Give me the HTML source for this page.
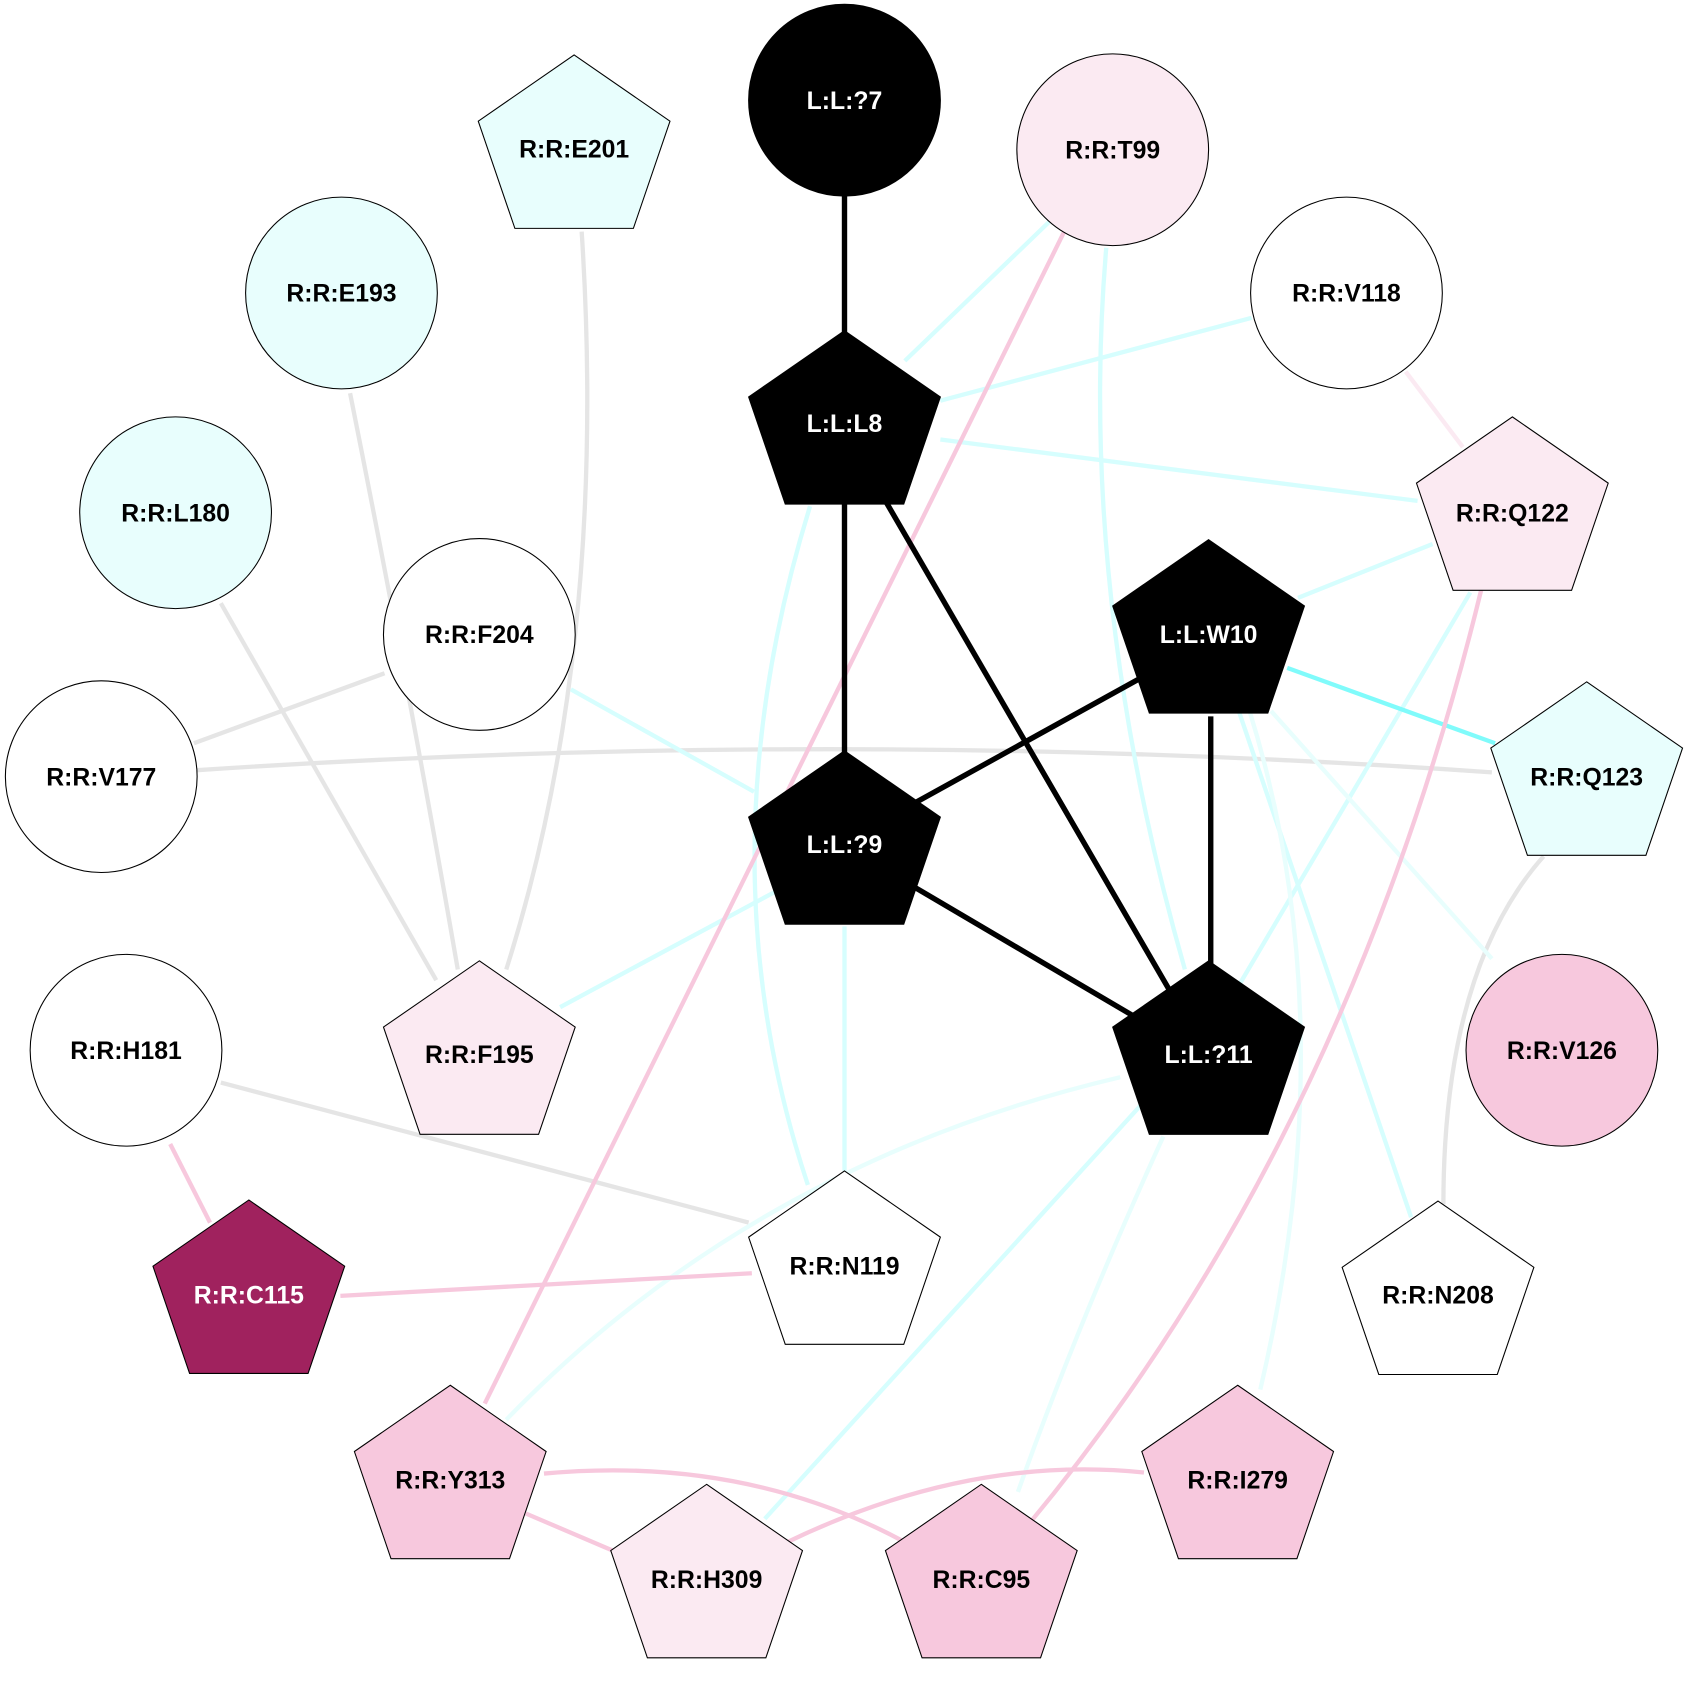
<!DOCTYPE html>
<html><head><meta charset="utf-8"><style>html,body{margin:0;padding:0;background:#fff}svg{display:block}</style></head>
<body>
<svg width="1689" height="1683" viewBox="0 0 1568 1562.4" xmlns="http://www.w3.org/2000/svg">
<defs>
<polygon id="pent" points="0,-89 89,-27.5 55,72 -55,72 -89,-27.5"/>
</defs>
<g fill="none" stroke-width="4" stroke-linecap="butt">
<path d="M540,215 Q565,600 470,900" stroke="#e5e5e5"/>
<path d="M325,365 Q380,640 425,900" stroke="#e5e5e5"/>
<path d="M205,560 L405,910" stroke="#e5e5e5"/>
<path d="M357,625 L180,690" stroke="#e5e5e5"/>
<path d="M183,715 Q784,675 1385,717" stroke="#e5e5e5"/>
<path d="M1433,795 Q1340,900 1340,1118" stroke="#e5e5e5"/>
<path d="M205,1005 L695,1135" stroke="#e5e5e5"/>
<path d="M975,205 L840,335" stroke="#d6fefe"/>
<path d="M1027,230 Q1000,550 1100,900" stroke="#d6fefe"/>
<path d="M1162,295 L873,372" stroke="#d6fefe"/>
<path d="M873,408 L1316,465" stroke="#d6fefe"/>
<path d="M1330,505 L1205,555" stroke="#d6fefe"/>
<path d="M1365,550 L1150,915" stroke="#d6fefe"/>
<path d="M1195,620 L1388,690" stroke="#80fbfb"/>
<path d="M1180,660 L1385,890" stroke="#e8fefd"/>
<path d="M1150,660 L1310,1130" stroke="#d6fefe"/>
<path d="M1160,660 Q1250,950 1170,1290" stroke="#e8fefd"/>
<path d="M752,470 Q650,800 750,1100" stroke="#d6fefe"/>
<path d="M784,860 L784,1087" stroke="#d6fefe"/>
<path d="M725,825 L520,935" stroke="#d6fefe"/>
<path d="M530,640 L700,735" stroke="#d6fefe"/>
<path d="M1040,1000 Q700,1080 470,1318" stroke="#e8fefd"/>
<path d="M1060,1025 L710,1410" stroke="#d6fefe"/>
<path d="M1080,1055 Q1000,1230 945,1385" stroke="#e8fefd"/>
<path d="M988,215 L450,1303" stroke="#f7c8dd"/>
<path d="M1375,548 Q1250,1060 955,1415" stroke="#f7c8dd"/>
<path d="M158,1062 L195,1135" stroke="#f7c8dd"/>
<path d="M316,1203 L698,1182" stroke="#f7c8dd"/>
<path d="M505,1368 Q700,1350 855,1440" stroke="#f7c8dd"/>
<path d="M488,1405 L570,1440" stroke="#f7c8dd"/>
<path d="M730,1432 Q900,1350 1062,1367" stroke="#f7c8dd"/>
<path d="M1305,345 L1358,415" stroke="#fbeaf2"/>
<g stroke="#000" stroke-width="5">
<path d="M784,180 L784,310"/>
<path d="M784,468 L784,700"/>
<path d="M822,465 L1085,918"/>
<path d="M1058,630 L850,745"/>
<path d="M1124,665 L1124,895"/>
<path d="M848,823 L1052,943"/>
</g>
</g>
<g stroke="#000" stroke-width="1">
<circle cx="784" cy="93" r="89" fill="#000"/>
<circle cx="1033" cy="139" r="89" fill="#fbeaf2"/>
<circle cx="1250" cy="272" r="89" fill="#fff"/>
<circle cx="317" cy="272" r="89" fill="#e8fefd"/>
<circle cx="163" cy="476" r="89" fill="#e8fefd"/>
<circle cx="445" cy="589" r="89" fill="#fff"/>
<circle cx="94" cy="721" r="89" fill="#fff"/>
<circle cx="117" cy="975" r="89" fill="#fff"/>
<circle cx="1450" cy="975" r="89" fill="#f7c8dd"/>
<use href="#pent" x="533" y="140" fill="#e8fefd"/>
<use href="#pent" x="784" y="396" fill="#000"/>
<use href="#pent" x="1404" y="476" fill="#fbeaf2"/>
<use href="#pent" x="1122" y="590" fill="#000"/>
<use href="#pent" x="1473" y="722" fill="#e8fefd"/>
<use href="#pent" x="784" y="786" fill="#000"/>
<use href="#pent" x="1122" y="981" fill="#000"/>
<use href="#pent" x="445" y="981" fill="#fbeaf2"/>
<use href="#pent" x="784" y="1176" fill="#fff"/>
<use href="#pent" x="231" y="1203" fill="#a0225e"/>
<use href="#pent" x="1335" y="1204" fill="#fff"/>
<use href="#pent" x="418" y="1375" fill="#f7c8dd"/>
<use href="#pent" x="1149" y="1375" fill="#f7c8dd"/>
<use href="#pent" x="656" y="1467" fill="#fbeaf2"/>
<use href="#pent" x="911" y="1467" fill="#f7c8dd"/>
</g>
<g font-family="Liberation Sans, Arial, sans-serif" font-weight="bold" font-size="23" text-anchor="middle" fill="#000">
<text x="784" y="101" fill="#fff">L:L:?7</text>
<text x="1033" y="147">R:R:T99</text>
<text x="1250" y="280">R:R:V118</text>
<text x="317" y="280">R:R:E193</text>
<text x="163" y="484">R:R:L180</text>
<text x="445" y="597">R:R:F204</text>
<text x="94" y="729">R:R:V177</text>
<text x="117" y="983">R:R:H181</text>
<text x="1450" y="983">R:R:V126</text>
<text x="533" y="146">R:R:E201</text>
<text x="784" y="401" fill="#fff">L:L:L8</text>
<text x="1404" y="484">R:R:Q122</text>
<text x="1122" y="597" fill="#fff">L:L:W10</text>
<text x="1473" y="729">R:R:Q123</text>
<text x="784" y="792" fill="#fff">L:L:?9</text>
<text x="1122" y="987" fill="#fff">L:L:?11</text>
<text x="445" y="987">R:R:F195</text>
<text x="784" y="1183">R:R:N119</text>
<text x="231" y="1210" fill="#fff">R:R:C115</text>
<text x="1335" y="1210">R:R:N208</text>
<text x="418" y="1382">R:R:Y313</text>
<text x="1149" y="1382">R:R:I279</text>
<text x="656" y="1474">R:R:H309</text>
<text x="911" y="1474">R:R:C95</text>
</g>
</svg>
</body></html>
